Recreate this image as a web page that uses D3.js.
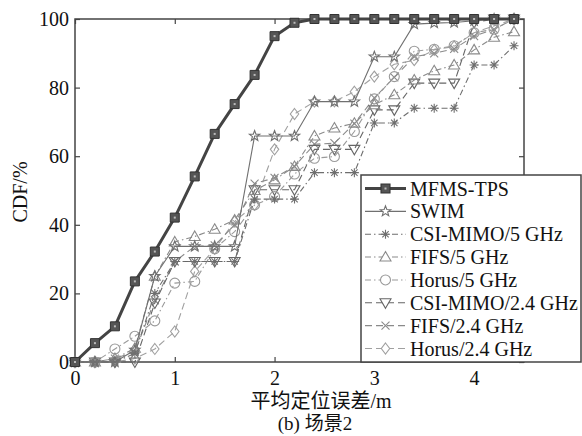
<!DOCTYPE html>
<html><head><meta charset="utf-8">
<script src="https://cdn.jsdelivr.net/npm/d3@7"></script>
<style>
body{margin:0;background:#fff}
svg{display:block}
text{font-family:"Liberation Serif","Times New Roman","Noto Sans CJK SC",serif;fill:#111}
</style>
</head><body>
<svg id="c" width="582" height="436"></svg>
<script>
// ---- data ----
const xValues   = [0,0.2,0.4,0.6,0.8,1.0,1.2,1.4,1.6,1.8,2.0,2.2,2.4,2.6,2.8,3.0,3.2,3.4,3.6,3.8,4.0,4.2,4.4];
const mfmsTps   = [0,5.5,10.4,23.5,32.2,42.1,54.1,66.5,75.2,83.7,95.0,98.9,100,100,100,100,100,100,100,100,100,100,100];
const swim      = [0,0,0,3.5,25,33.7,33.7,33.7,33.7,65.9,65.9,65.9,75.9,75.9,75.9,89,89,98.5,98.8,99,99.5,100,100];
const csiMimo5  = [0,0,0,2.5,20,29.3,29.3,29.3,29.3,47.5,47.5,47.5,55.2,55.2,55.2,69.7,69.7,74,74,74,86.6,86.6,92.2];
const fifs5     = [0,0,1,4,25,35,36.6,38.7,41.4,50,53.1,57,65.9,68.2,69.6,75,77.9,82.2,84.9,86.6,91,94.7,96.3];
const horus5    = [0,0,3.8,7.5,12,23,23.5,33,38,45.8,48.2,54.8,59.4,59.9,67.2,76.7,83.2,90.6,91.2,92.2,96,97,100];
const csiMimo24 = [0,0,0,0,17.2,29.3,29.3,29.3,29.3,50.2,50.2,50.2,62,62,62,73.5,73.5,81.3,81.3,81.3,99,100,100];
const fifs24    = [0,0,1,3,18,29.3,33.7,34,40,52,53.7,57,63.5,63.8,69.5,77,83,89,90,91.3,95,97,100];
const horus24   = [0,0,0,1,3.8,8.9,26.4,33,41,45.8,62,72.3,75.9,76,78.8,83.2,86.8,88,91,92,96,98,100];
const seriesNames = ["MFMS-TPS","SWIM","CSI-MIMO/5 GHz","FIFS/5 GHz","Horus/5 GHz","CSI-MIMO/2.4 GHz","FIFS/2.4 GHz","Horus/2.4 GHz"];
const xTicks = [0,1,2,3,4];
const yTicks = [0,20,40,60,80,100];
const xLabel = "平均定位误差/m";
const yLabel = "CDF/%";
const caption = "(b) 场景2";

// ---- styles ----
const seriesValues = [mfmsTps, swim, csiMimo5, fifs5, horus5, csiMimo24, fifs24, horus24];
const styles = [
  {color:"#444444", width:3,   dash:null,          marker:"square"},
  {color:"#707070", width:1.1, dash:null,          marker:"star"},
  {color:"#6e6e6e", width:1.1, dash:"6,3,1.5,3",   marker:"asterisk"},
  {color:"#8a8a8a", width:1.1, dash:"6,3,1.5,3",   marker:"triUp"},
  {color:"#9a9a9a", width:1.1, dash:"6,3,1.5,3",   marker:"circle"},
  {color:"#666666", width:1.1, dash:"7,4",         marker:"triDown"},
  {color:"#8a8a8a", width:1.1, dash:"7,4",         marker:"cross"},
  {color:"#a0a0a0", width:1.1, dash:"7,4",         marker:"diamond"}
];

function markerPath(type){
  switch(type){
    case "square": return "M-4.5,-4.5H4.5V4.5H-4.5Z";
    case "star": {
      let p=[]; const R=5.5, r=2.3;
      for(let i=0;i<10;i++){const a=-Math.PI/2+i*Math.PI/5; const rr=i%2?r:R; p.push([rr*Math.cos(a),rr*Math.sin(a)]);}
      return "M"+p.map(q=>q[0].toFixed(2)+","+q[1].toFixed(2)).join("L")+"Z";
    }
    case "asterisk": return "M-4.5,0H4.5M0,-4.5V4.5M-3.2,-3.2L3.2,3.2M-3.2,3.2L3.2,-3.2";
    case "triUp": return "M0,-5.5L5.5,4L-5.5,4Z";
    case "triDown": return "M0,5.5L5.5,-4L-5.5,-4Z";
    case "circle": return "M5,0A5,5 0 1,1 -5,0A5,5 0 1,1 5,0Z";
    case "cross": return "M-4,-4L4,4M-4,4L4,-4";
    case "diamond": return "M0,-5.5L4.2,0L0,5.5L-4.2,0Z";
  }
}

const svg = d3.select("#c");
const x = d3.scaleLinear().domain([0,4.5]).range([75,524]);
const y = d3.scaleLinear().domain([0,100]).range([362,19]);

// axes
const axColor="#444";
const gB = svg.append("g").attr("transform","translate(0,362)")
  .call(d3.axisBottom(x).tickValues(xTicks).tickSizeInner(-5).tickSizeOuter(0).tickPadding(9).tickFormat(d3.format("d")));
const gL = svg.append("g").attr("transform","translate(75,0)")
  .call(d3.axisLeft(y).tickValues(yTicks).tickSizeInner(-5).tickSizeOuter(0).tickPadding(6).tickFormat(d3.format("d")));
const gT = svg.append("g").attr("transform","translate(0,19)")
  .call(d3.axisTop(x).tickValues(xTicks).tickSizeInner(-5).tickSizeOuter(0).tickFormat(""));
const gR = svg.append("g").attr("transform","translate(524,0)")
  .call(d3.axisRight(y).tickValues(yTicks).tickSizeInner(-5).tickSizeOuter(0).tickFormat(""));
[gB,gL,gT,gR].forEach(g=>{
  g.select(".domain").remove();
  g.selectAll("line").attr("stroke",axColor).attr("stroke-width",1.2);
  g.selectAll("text").attr("font-size",20).attr("fill","#111")
   .style("font-family","'Liberation Serif','Times New Roman',serif");
});
svg.append("rect").attr("x",x(0)).attr("y",y(100)).attr("width",x(4.5)-x(0)).attr("height",y(0)-y(100))
  .attr("fill","none").attr("stroke",axColor).attr("stroke-width",1.5);

// series (draw MFMS last)
const line = d3.line().x((d,i)=>x(xValues[i])).y(d=>y(d));
const order = [7,6,5,4,3,2,1,0];
order.forEach(k=>{
  const st = styles[k], vals = seriesValues[k];
  const g = svg.append("g");
  g.append("path").attr("d",line(vals)).attr("fill","none").attr("stroke",st.color)
    .attr("stroke-width",st.width).attr("stroke-dasharray",st.dash).attr("stroke-linejoin","round");
  g.selectAll("path.m").data(vals).enter().append("path").attr("class","m")
    .attr("transform",(d,i)=>`translate(${x(xValues[i])},${y(d)})`)
    .attr("d",markerPath(st.marker))
    .attr("fill",st.marker==="square"?"#555":"none")
    .attr("stroke",st.marker==="square"?"#333":st.color)
    .attr("stroke-width",st.marker==="square"?1:1.1);
  if(st.marker==="square"){
    g.selectAll("rect.dot").data(vals).enter().append("rect").attr("class","dot")
      .attr("x",(d,i)=>x(xValues[i])-1).attr("y",d=>y(d)-1).attr("width",2).attr("height",2).attr("fill","#bbb");
  }
});

// legend
const lg = svg.append("g");
lg.append("rect").attr("x",361).attr("y",175).attr("width",220).attr("height",187)
  .attr("fill","#fff").attr("stroke",axColor).attr("stroke-width",1.5);
const rowY = d3.scaleLinear().domain([0,7]).range([188.5,348.5]);
seriesNames.forEach((name,k)=>{
  const st = styles[k], yy = rowY(k);
  lg.append("line").attr("x1",365).attr("x2",406).attr("y1",yy).attr("y2",yy)
    .attr("stroke",st.color).attr("stroke-width",st.width).attr("stroke-dasharray",st.dash);
  lg.append("path").attr("transform",`translate(385.5,${yy})`).attr("d",markerPath(st.marker))
    .attr("fill",st.marker==="square"?"#555":"#fff")
    .attr("stroke",st.marker==="square"?"#333":st.color).attr("stroke-width",1.1);
  if(st.marker==="square") lg.append("rect").attr("x",384.5).attr("y",yy-1).attr("width",2).attr("height",2).attr("fill","#bbb");
  lg.append("text").attr("x",410).attr("y",yy).attr("dy","0.35em").attr("font-size",20).text(name);
});

// titles
svg.append("text").attr("transform","translate(27,192) rotate(-90)").attr("text-anchor","middle")
  .attr("font-size",20).text(yLabel);
svg.append("text").attr("x",321).attr("y",401).attr("text-anchor","middle").attr("dy","0.35em")
  .attr("font-size",20).text(xLabel);
svg.append("text").attr("x",315).attr("y",423).attr("text-anchor","middle").attr("dy","0.35em")
  .attr("font-size",19).text(caption);
</script>
</body></html>
